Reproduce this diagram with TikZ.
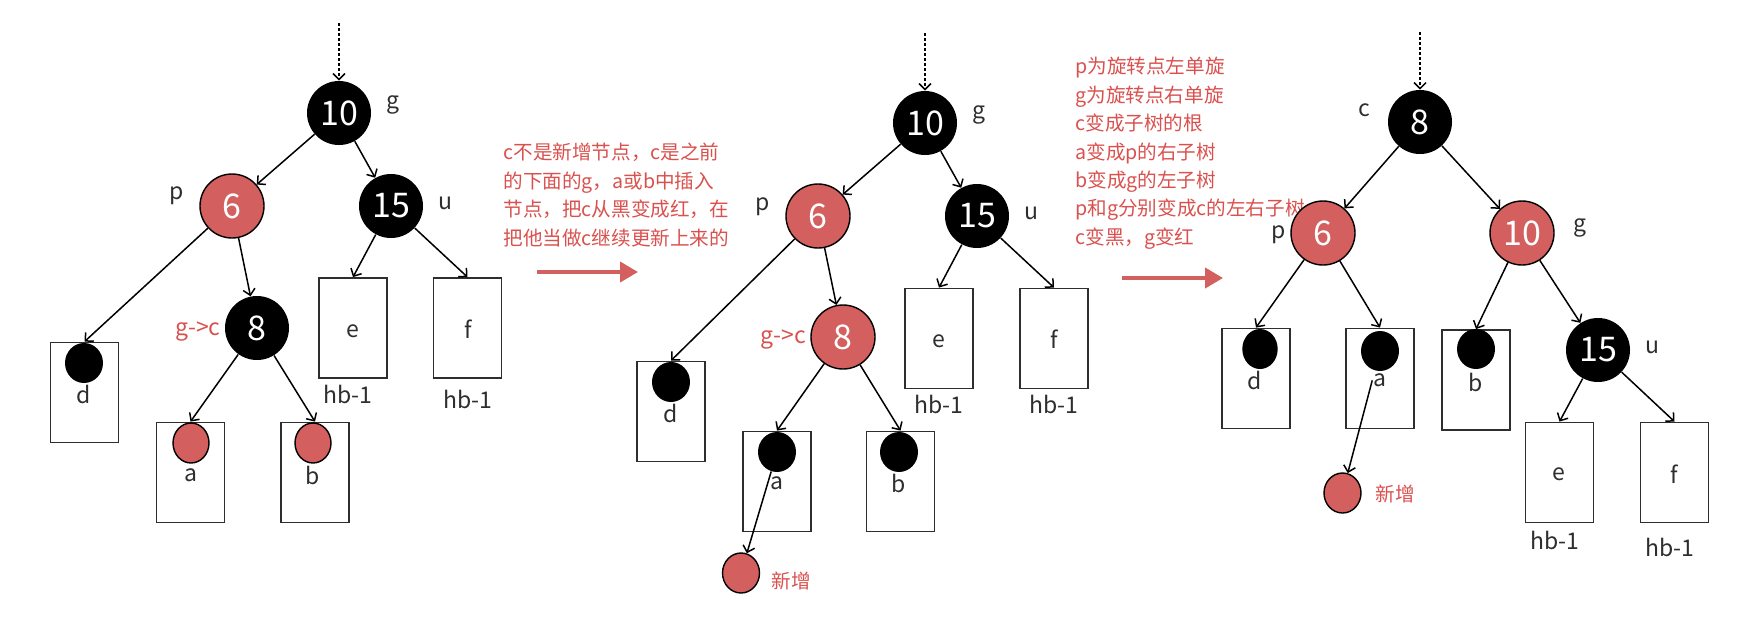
\documentclass[tikz,border=0pt]{standalone}
\usepackage{fontspec}
\setmainfont{Noto Sans CJK SC}
\usepackage{xcolor}
\usepackage{tikz}
\usetikzlibrary{arrows.meta, shapes.geometric}
\definecolor{nRed}{HTML}{D35F5F}
\definecolor{nNote}{HTML}{D9514E}
\definecolor{nInk}{HTML}{2E2E2E}
\tikzset{
  bk/.style={ellipse, fill=black, text=white, inner sep=0pt, minimum width=32pt, minimum height=32pt,
    font=\fontsize{17}{17}\selectfont},
  rd/.style={bk, draw=black, line width=0.7pt, fill=nRed},
  leaf/.style={draw=nInk, line width=0.9pt, inner sep=0pt, minimum width=34pt, minimum height=50pt},
  dotb/.style={ellipse, fill=black, inner sep=0pt, minimum width=19pt, minimum height=20pt},
  dotr/.style={dotb, draw=black, line width=0.7pt, fill=nRed},
  lbl/.style={text=nInk, inner sep=0pt, font=\fontsize{11.5}{11.5}\selectfont},
  rlbl/.style={lbl, text=nNote},
  note/.style={text=nNote, inner sep=0pt, anchor=north west, align=left,
    font=\fontsize{9.8}{14.2}\selectfont},
  link/.style={->, line width=0.75pt},
  entry/.style={->, line width=0.75pt, dash pattern=on 1.5pt off 1pt},
  flow/.style={-{Triangle[length=9pt,width=10pt]}, line width=2pt, draw=nRed}
}
\begin{document}
\begin{tikzpicture}[x=0.5pt, y=-0.5pt, >={Straight Barb[length=3pt,width=6pt]}]
  \useasboundingbox (0,0) rectangle (1746,628);

  % before: c was black, becomes red
  \coordinate (top1) at (339,23);
  \node[bk] (g1) at (339,113) {10};
  \node[rd] (p1) at (232,206) {6};
  \node[bk] (u1) at (391,206) {15};
  \node[bk] (c1) at (257,328) {8};
  \node[lbl] (g1l) at (393,105) {g};
  \node[lbl] (p1l) at (177,196) {p};
  \node[lbl] (u1l) at (445,203) {u};
  \node[rlbl] (c1l) at (198,332) {g->c};
  \node[leaf] (d1) at (84.5,392.5) {};
  \node[leaf] (a1) at (190.5,472.5) {};
  \node[leaf] (b1) at (315,472.5) {};
  \node[leaf] (e1) at (353,328) {};
  \node[leaf] (f1) at (467.5,328) {};
  \node[dotb] (d1x) at (84,363) {};
  \node[dotr, minimum width=18pt] (a1x) at (191,443) {};
  \node[dotr, minimum width=18pt] (b1x) at (313,443) {};
  \node[lbl] at (84,394) {d};
  \node[lbl] at (191,475) {a};
  \node[lbl] at (313,475) {b};
  \node[lbl] at (353,331) {e};
  \node[lbl] at (468,329) {f};
  \node[lbl] at (348,394) {hb-1};
  \node[lbl] at (468,399) {hb-1};
  \draw[entry] (top1) -- (g1);
  \draw[link] (g1) -- (p1);
  \draw[link] (g1) -- (u1);
  \draw[link] (p1) -- (d1.north);
  \draw[link] (p1) -- (c1);
  \draw[link] (u1) -- (e1.north);
  \draw[link] (u1) -- (f1.north);
  \draw[link] (c1) -- (a1.north);
  \draw[link] (c1) -- (b1.north);

  \node[note] (t1) at (503,143) {c不是新增节点，c是之前\\的下面的g，a或b中插入\\节点，把c从黑变成红，在\\把他当做c继续更新上来的};
  \coordinate (s1) at (537,272);
  \coordinate (s2) at (638,272);
  \draw[flow] (s1) -- (s2);

  % middle: c red under red p
  \coordinate (top2) at (925,33);
  \node[bk] (g2) at (925,123) {10};
  \node[rd] (p2) at (818,216) {6};
  \node[bk] (u2) at (977,216) {15};
  \node[rd] (c2) at (843,337) {8};
  \node[lbl] (g2l) at (979,115) {g};
  \node[lbl] (p2l) at (763,207) {p};
  \node[lbl] (u2l) at (1031,213) {u};
  \node[rlbl] (c2l) at (783,340) {g->c};
  \node[leaf] (d2) at (671,411.5) {};
  \node[leaf] (a2) at (777,481.5) {};
  \node[leaf] (b2) at (900.5,481.5) {};
  \node[leaf] (e2) at (939,338.5) {};
  \node[leaf] (f2) at (1054,338.5) {};
  \node[dotb] (d2x) at (671,382) {};
  \node[dotb] (a2x) at (777,452) {};
  \node[dotb] (b2x) at (899,452) {};
  \node[lbl] at (671,413) {d};
  \node[lbl] at (777,483) {a};
  \node[lbl] at (899,483) {b};
  \node[lbl] at (939,341) {e};
  \node[lbl] at (1054,339) {f};
  \node[lbl] at (939,404) {hb-1};
  \node[lbl] at (1054,404) {hb-1};
  \node[dotr, minimum width=18.5pt] (n2) at (741,573) {};
  \node[rlbl, font=\fontsize{9.8}{9.8}\selectfont] (n2l) at (791,581) {新增};
  \draw[entry] (top2) -- (g2);
  \draw[link] (g2) -- (p2);
  \draw[link] (g2) -- (u2);
  \draw[link] (p2) -- (d2.north);
  \draw[link] (p2) -- (c2);
  \draw[link] (u2) -- (e2.north);
  \draw[link] (u2) -- (f2.north);
  \draw[link] (c2) -- (a2.north);
  \draw[link] (c2) -- (b2.north);
  \draw[link] (a2x) -- (n2);

  \node[note] (t2) at (1075,57) {p为旋转点左单旋\\g为旋转点右单旋\\c变成子树的根\\a变成p的右子树\\b变成g的左子树\\p和g分别变成c的左右子树\\c变黑，g变红};
  \coordinate (s3) at (1122,278);
  \coordinate (s4) at (1223,278);
  \draw[flow] (s3) -- (s4);

  % after: double rotation
  \coordinate (top3) at (1420,32);
  \node[bk] (c3) at (1420,122) {8};
  \node[rd] (p3) at (1323,233) {6};
  \node[rd] (g3) at (1522,233) {10};
  \node[bk] (u3) at (1598,350) {15};
  \node[lbl] (c3l) at (1364,110) {c};
  \node[lbl] (p3l) at (1279,235) {p};
  \node[lbl] (g3l) at (1580,228) {g};
  \node[lbl] (u3l) at (1652,347) {u};
  \node[leaf] (d3) at (1256,378.5) {};
  \node[leaf] (a3) at (1380,378.5) {};
  \node[leaf] (b3) at (1476,380) {};
  \node[leaf] (e3) at (1559.5,472.5) {};
  \node[leaf] (f3) at (1674.5,472.5) {};
  \node[dotb, minimum width=17.7pt] (d3x) at (1260,349) {};
  \node[dotb] (a3x) at (1380,351) {};
  \node[dotb] (b3x) at (1476,349) {};
  \node[lbl] at (1255,380) {d};
  \node[lbl] at (1380,380) {a};
  \node[lbl] at (1476,382) {b};
  \node[lbl] at (1559,474) {e};
  \node[lbl] at (1674.5,474) {f};
  \node[lbl] at (1555,540) {hb-1};
  \node[lbl] at (1670,547) {hb-1};
  \node[dotr, minimum width=18.5pt] (n3) at (1342.5,493) {};
  \node[rlbl, font=\fontsize{9.8}{9.8}\selectfont] (n3l) at (1395,494) {新增};
  \draw[entry] (top3) -- (c3);
  \draw[link] (c3) -- (p3);
  \draw[link] (c3) -- (g3);
  \draw[link] (p3) -- (d3.north);
  \draw[link] (p3) -- (a3.north);
  \draw[link] (g3) -- (b3.north);
  \draw[link] (g3) -- (u3);
  \draw[link] (u3) -- (e3.north);
  \draw[link] (u3) -- (f3.north);
  \draw[link, shorten <=5pt] (a3x) -- (n3);
\end{tikzpicture}
\end{document}
